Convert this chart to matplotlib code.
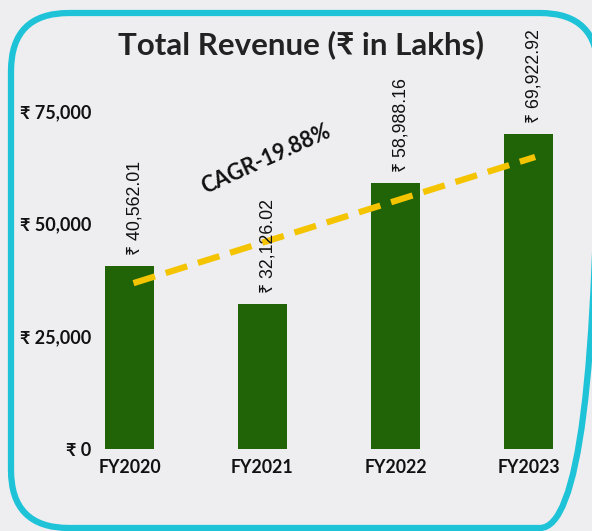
import matplotlib
matplotlib.use("Agg")
import matplotlib.pyplot as plt
from matplotlib.patches import FancyBboxPatch

# --- Données ---
years = ["FY2020", "FY2021", "FY2022", "FY2023"]
revenue = [40562.01, 32126.02, 58988.16, 69922.92]
yticks = [0, 25000, 50000, 75000]
ytick_labels = ["₹ 0", "₹ 25,000", "₹ 50,000", "₹ 75,000"]
# ligne de tendance
trend_x = [0.03, 3.05]
trend_y = [36800, 64800]
cagr_text = "CAGR-19.88%"

GREEN = "#216408"
YELLOW = "#f5c400"
CYAN = "#1ec3d8"
BG = "#eeeef0"

bold_font = ["Lato", "Noto Sans", "DejaVu Sans"]
label_font = ["Liberation Sans", "Noto Sans", "DejaVu Sans"]

W, H = 592, 531
fig = plt.figure(figsize=(W / 100, H / 100), dpi=100)
fig.patch.set_facecolor(BG)

# --- Cadre arrondi (coordonnées en pixels, bord droit hors image) ---
bg_ax = fig.add_axes([0, 0, 1, 1], zorder=0)
bg_ax.set_xlim(0, W)
bg_ax.set_ylim(H, 0)
bg_ax.axis("off")
frame = FancyBboxPatch((11, 13), 587, 515,
                       boxstyle="round,pad=0,rounding_size=58",
                       fill=False, edgecolor=CYAN, linewidth=4.5,
                       clip_on=False)
bg_ax.add_patch(frame)

# --- Axes du graphique ---
left_px, right_px, top_px, bottom_px = 100, 580, 20, 449
ax = fig.add_axes([left_px / W, 1 - bottom_px / H,
                   (right_px - left_px) / W, (bottom_px - top_px) / H], zorder=1)
ax.patch.set_alpha(0)
x0_px, step_px = 129.5, 133
ax.set_xlim((left_px - x0_px) / step_px, (right_px - x0_px) / step_px)
px_per_unit = (449 - 111) / 75000
ax.set_ylim(0, (bottom_px - top_px) / px_per_unit)

xs = list(range(len(years)))
ax.bar(xs, revenue, width=0.37, color=GREEN, zorder=2)

for x, v in zip(xs, revenue):
    ax.text(x + 0.04, v + 2400, f"₹ {v:,.2f}", rotation=90,
            ha="center", va="bottom", fontsize=12.8, family=label_font,
            color="#111111", zorder=4)

ax.plot(trend_x, trend_y, color=YELLOW, lw=4.5, dashes=(3.6, 1.8),
        solid_capstyle="butt", dash_capstyle="butt", zorder=3)

ax.text(1.025, 64300, cagr_text, rotation=24.5, ha="center", va="center",
        fontsize=15.5, family=bold_font, fontweight="bold", color="#111111",
        zorder=4)

ax.set_xticks(xs)
ax.set_xticklabels(years, family=bold_font, fontweight="bold", fontsize=12.8,
                   color="#111111")
ax.set_yticks(yticks)
ax.set_yticklabels(ytick_labels, family=bold_font, fontweight="bold",
                   fontsize=13, color="#111111")
ax.tick_params(axis="x", length=0, pad=7)
ax.tick_params(axis="y", length=0, pad=6)
for s in ax.spines.values():
    s.set_visible(False)

fig.text(301 / W, 1 - 45 / H, "Total Revenue (₹ in Lakhs)", ha="center",
         va="center", fontsize=22.5, family=bold_font, fontweight="bold",
         color="#222222")

fig.savefig("out.png", dpi=100, facecolor=fig.get_facecolor())
